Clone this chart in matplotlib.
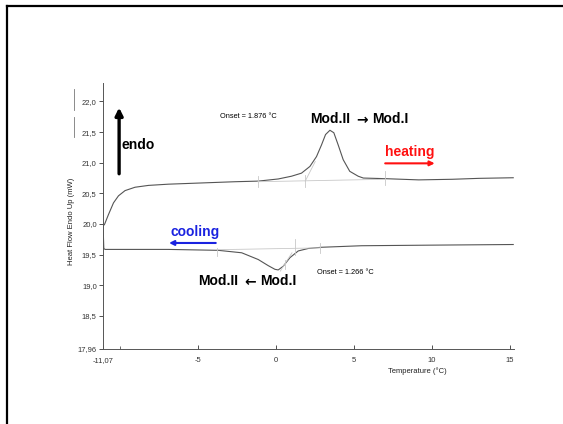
import numpy as np
import matplotlib
matplotlib.use("Agg")
import matplotlib.pyplot as plt
from matplotlib.lines import Line2D

plt.rcParams['font.family'] = ['Liberation Sans', 'DejaVu Sans']

# heating run (endo up)
heat_T = [-11.07, -10.98, -10.72, -10.40, -10.08, -9.66, -9.02, -8.16, -6.88, -4.75,
          -2.62, -1.13, 0.15, 1.0, 1.64, 2.18, 2.60, 2.92, 3.18, 3.46, 3.71, 3.99,
          4.31, 4.73, 5.27, 5.6, 7.0, 9.15, 11.3, 13.0, 15.2]
heat_Q = [19.97, 19.99, 20.155, 20.345, 20.46, 20.545, 20.60, 20.63, 20.65, 20.67,
          20.69, 20.70, 20.735, 20.78, 20.83, 20.94, 21.10, 21.29, 21.46, 21.53, 21.49, 21.29,
          21.05, 20.86, 20.78, 20.75, 20.74, 20.72, 20.73, 20.745, 20.755]

# cooling run
cool_T = [-11.07, -11.02, -10.94, -6.88, -3.69, -2.19, -1.13, -0.49, -0.06, 0.15,
          0.47, 0.90, 1.43, 2.07, 2.92, 5.48, 10.1, 15.2]
cool_Q = [19.99, 19.60, 19.585, 19.585, 19.57, 19.53, 19.42, 19.32, 19.26, 19.25,
          19.31, 19.45, 19.56, 19.60, 19.62, 19.645, 19.655, 19.665]

xticks = [-11.07, -5, 0, 5, 10, 15]
xlabels = ['-11,07', '-5', '0', '5', '10', '15']
yticks = [17.96, 18.5, 19.0, 19.5, 20.0, 20.5, 21.0, 21.5, 22.0]
ylabels = ['17,96', '18,5', '19,0', '19,5', '20,0', '20,5', '21,0', '21,5', '22,0']

fig = plt.figure(figsize=(5.63, 4.24), dpi=100)
ax = fig.add_axes([0.183, 0.177, 0.730, 0.627])

ax.plot(heat_T, heat_Q, color='#555555', lw=0.8)
ax.plot(cool_T, cool_Q, color='#555555', lw=0.8)

# onset construction lines (faint)
faint = dict(color='#c8c8c8', lw=0.6)
ax.plot([-1.15, 6.97], [20.69, 20.73], **faint)
ax.plot([1.88, 2.52], [20.70, 21.02], **faint)
for t, a, b in [(-1.15, 20.60, 20.79), (1.88, 20.61, 20.80), (6.97, 20.64, 20.86)]:
    ax.plot([t, t], [a, b], **faint)
ax.plot([-3.8, 2.85], [19.58, 19.61], **faint)
ax.plot([0.28, 1.03], [19.23, 19.53], **faint)
for t, a, b in [(-3.8, 19.47, 19.61), (0.6, 19.26, 19.42), (1.2, 19.50, 19.75), (2.85, 19.52, 19.69)]:
    ax.plot([t, t], [a, b], **faint)

ax.set_xlim(-11.07, 15.25)
ax.set_ylim(17.96, 22.3)
ax.set_xticks(xticks)
ax.set_xticklabels(xlabels)
ax.set_xticks([-10], minor=True)
ax.set_yticks(yticks)
ax.set_yticklabels(ylabels)
ax.tick_params(axis='x', direction='in', length=3, width=0.6, labelsize=5.5, pad=6, colors='#333333')
ax.tick_params(axis='x', which='minor', direction='in', length=2, width=0.6, colors='#555555')
ax.tick_params(axis='y', direction='out', length=3, width=0.6, labelsize=5.5, pad=1.5, colors='#333333')
for s in ['top', 'right']:
    ax.spines[s].set_visible(False)
for s in ['left', 'bottom']:
    ax.spines[s].set_color('#555555')
    ax.spines[s].set_linewidth(0.7)

ax.set_ylabel('Heat Flow Endo Up (mW)', fontsize=5.5, color='#222222')
ax.yaxis.set_label_coords(-0.068, 0.48)
ax.text(9.05, 17.60, 'Temperature (°C)', fontsize=5.5, ha='center', va='center', color='#222222')

# annotations
ax.text(-3.6, 21.755, 'Onset = 1.876 °C', fontsize=5.3, ha='left', va='center')
ax.text(2.63, 19.21, 'Onset = 1.266 °C', fontsize=5.3, ha='left', va='center')

bold = dict(fontsize=10, fontweight='bold', va='center')
arrowfont = dict(fontsize=10, fontweight='bold', va='center', ha='center', family='DejaVu Sans')
ax.text(2.22, 21.72, 'Mod.II', ha='left', **bold)
ax.text(5.55, 21.70, '\u2192', **arrowfont)
ax.text(6.17, 21.72, 'Mod.I', ha='left', **bold)
ax.text(-4.96, 19.07, 'Mod.II', ha='left', **bold)
ax.text(-1.66, 19.05, '\u2190', **arrowfont)
ax.text(-0.98, 19.07, 'Mod.I', ha='left', **bold)

ax.text(-9.87, 21.29, 'endo', ha='left', **bold)
ax.annotate('', xy=(-10.04, 21.90), xytext=(-10.04, 20.82),
            arrowprops=dict(arrowstyle='-|>', lw=2.4, color='k', mutation_scale=11, shrinkA=0, shrinkB=0))
ax.text(7.0, 21.18, 'heating', color='#ff1010', ha='left', **bold)
ax.annotate('', xy=(10.17, 20.99), xytext=(7.0, 20.99),
            arrowprops=dict(arrowstyle='-|>', lw=1.5, color='#ff1010', mutation_scale=7, shrinkA=0, shrinkB=0))
ax.text(-6.78, 19.87, 'cooling', color='#1a22e0', ha='left', **bold)
ax.annotate('', xy=(-6.84, 19.69), xytext=(-3.85, 19.69),
            arrowprops=dict(arrowstyle='-|>', lw=1.5, color='#1a22e0', mutation_scale=7, shrinkA=0, shrinkB=0))

# scan artefacts next to the y label
W, H = 563.0, 424.0
for y0, y1 in [(89, 110), (117, 137)]:
    fig.add_artist(Line2D([74 / W, 74 / W], [1 - y0 / H, 1 - y1 / H], color='#777777', lw=0.6))

# slide frame
fig.add_artist(Line2D([7 / W, 1.0], [1 - 6 / H, 1 - 6 / H], color='k', lw=1.6))
fig.add_artist(Line2D([7 / W, 7 / W], [0.0, 1 - 6 / H], color='k', lw=1.6))

fig.savefig('out.png', dpi=100)
